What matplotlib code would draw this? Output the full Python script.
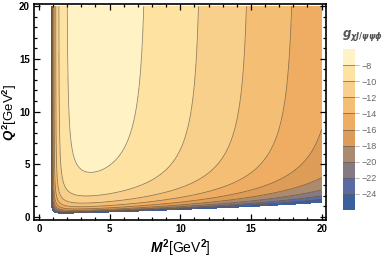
import numpy as np
import matplotlib
matplotlib.use('Agg')
import matplotlib.pyplot as plt
from matplotlib.ticker import MultipleLocator

plt.rcParams['font.family'] = ['Liberation Sans', 'DejaVu Sans']
plt.rcParams['font.weight'] = 'bold'
plt.rcParams['mathtext.fontset'] = 'custom'
plt.rcParams['mathtext.rm'] = 'Liberation Sans:bold'
plt.rcParams['mathtext.it'] = 'Liberation Sans:bold:italic'
plt.rcParams['mathtext.bf'] = 'Liberation Sans:bold'

# contour levels and band colours (lowest band first)
levels = [-24, -22, -20, -18, -16, -14, -12, -10, -8]
band_colors = ['#3b60a0', '#5a6ba3', '#847a84', '#ab8b70', '#dd9c58',
               '#eead62', '#f4bf74', '#f9d08b', '#fde2a2', '#fff3c6']

# model of g(M^2, Q^2)
x0 = 0.75                            # left edge of the physical region
A, a, b, c = -5.8, 1.635, 0.731, 1.94  # large-Q^2 behaviour in M^2
d, p = 4.0, 1.5                      # Q^2 fall-off
s0, s1 = 1.65, 0.06                  # Q^2 scale vs M^2
yb0, yb1 = 0.20, 0.0376              # lower edge Q^2 vs M^2
g_clip = -26.8
x_max, y_max = 20, 20

# grid that follows the edges of the region (dense near them)
r = np.concatenate([np.geomspace(1e-4, 0.02, 150), np.linspace(0.02, 1, 500)[1:]])
t = np.concatenate([np.geomspace(1e-4, 0.03, 150), np.linspace(0.03, 1, 500)[1:]])
R, Tt = np.meshgrid(r, t)
X = x0 + (x_max - x0) * R
yb = yb0 + yb1 * X
Y = yb + (y_max - yb) * Tt
u = X - x0
v = Y - yb

F = A + a * np.log(u) - b * u - c / u
T = -d * np.log(1 + ((s0 + s1 * X) / v) ** p)
G = F + T
G = np.where(G < g_clip, np.nan, G)

fig = plt.figure(figsize=(3.82, 2.57), dpi=100)
ax = fig.add_axes([0.089, 0.144, 0.764, 0.840])

ax.contourf(X, Y, G, levels=[-1000] + levels + [100], colors=band_colors)
ax.contour(X, Y, G, levels=levels, colors='#5a4a36', linewidths=0.55,
           linestyles='solid', alpha=0.7)

ax.set_xlim(-0.35, 20.3)
ax.set_ylim(-0.3, 20.2)
ax.xaxis.set_major_locator(MultipleLocator(5))
ax.yaxis.set_major_locator(MultipleLocator(5))
ax.xaxis.set_minor_locator(MultipleLocator(1))
ax.yaxis.set_minor_locator(MultipleLocator(1))
ax.tick_params(which='both', direction='in', top=True, right=True, width=0.9)
ax.tick_params(which='major', length=4, labelsize=7, pad=3)
ax.tick_params(which='minor', length=2.2)
for sp in ax.spines.values():
    sp.set_linewidth(1.2)

ax.set_xlabel(r'$M^2$[GeV$^2$]', fontsize=10, labelpad=2)
ax.set_ylabel(r'$Q^2$[GeV$^2$]', fontsize=9.5)
ax.yaxis.set_label_coords(-0.05, 0.5)

# legend bar
cax = fig.add_axes([0.898, 0.183, 0.031, 0.626])
bounds = [-26] + levels + [-6]
for i, col in enumerate(band_colors):
    cax.axhspan(bounds[i], bounds[i + 1], color=col, lw=0)
for lv in levels:
    cax.axhline(lv, color='#6e5c44', lw=0.6, alpha=0.8)
cax.set_ylim(-26, -6)
cax.set_xlim(0, 1)
cax.set_xticks([])
cax.yaxis.tick_right()
cax.set_yticks(levels)
cax.set_yticklabels(['\u2212%d' % -lv for lv in levels], fontweight='normal')
cax.tick_params(axis='y', length=3, width=0.5, color='#999999',
                labelcolor='#666666', labelsize=6.5, pad=1.5)
for sp in cax.spines.values():
    sp.set_visible(False)

fig.text(0.895, 0.862, r'$g_{\chi J/\psi\psi\phi}$', fontsize=8.5, color='#555555',
         math_fontfamily='dejavusans', ha='left', va='center')

fig.savefig('out.png', dpi=100)
